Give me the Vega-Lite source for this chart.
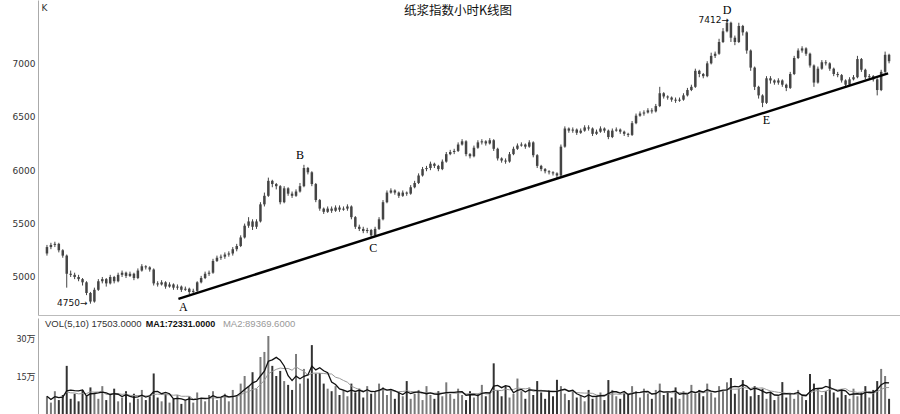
{
"$schema": "https://vega.github.io/schema/vega-lite/v6.json",
"padding": 0,
"background": "white",
"config": {"view": {"stroke": null}, "concat": {"spacing": 3}},
"datasets": {
"k": [
{"i":1,"o":5220,"h":5300,"l":5200,"c":5280,"v":70000},
{"i":2,"o":5280,"h":5320,"l":5260,"c":5300,"v":45000},
{"i":3,"o":5300,"h":5330,"l":5280,"c":5310,"v":90000},
{"i":4,"o":5310,"h":5320,"l":5230,"c":5250,"v":55000},
{"i":5,"o":5250,"h":5260,"l":5180,"c":5200,"v":75000},
{"i":6,"o":5200,"h":5210,"l":4900,"c":5030,"v":190000},
{"i":7,"o":5030,"h":5060,"l":5000,"c":5020,"v":60000},
{"i":8,"o":5020,"h":5040,"l":4980,"c":5000,"v":80000},
{"i":9,"o":5000,"h":5020,"l":4960,"c":4980,"v":50000},
{"i":10,"o":4980,"h":4990,"l":4920,"c":4950,"v":95000},
{"i":11,"o":4950,"h":4960,"l":4830,"c":4850,"v":70000},
{"i":12,"o":4850,"h":4860,"l":4750,"c":4770,"v":105000},
{"i":13,"o":4770,"h":4900,"l":4760,"c":4880,"v":85000},
{"i":14,"o":4880,"h":4980,"l":4870,"c":4960,"v":60000},
{"i":15,"o":4960,"h":5000,"l":4940,"c":4980,"v":110000},
{"i":16,"o":4980,"h":4990,"l":4910,"c":4940,"v":55000},
{"i":17,"o":4940,"h":5020,"l":4930,"c":5000,"v":75000},
{"i":18,"o":5000,"h":5010,"l":4940,"c":4960,"v":100000},
{"i":19,"o":4960,"h":5040,"l":4950,"c":5020,"v":50000},
{"i":20,"o":5020,"h":5060,"l":5000,"c":5040,"v":65000},
{"i":21,"o":5040,"h":5050,"l":4990,"c":5010,"v":90000},
{"i":22,"o":5010,"h":5050,"l":5000,"c":5030,"v":45000},
{"i":23,"o":5030,"h":5040,"l":4970,"c":4990,"v":80000},
{"i":24,"o":4990,"h":5080,"l":4980,"c":5060,"v":60000},
{"i":25,"o":5060,"h":5120,"l":5050,"c":5100,"v":95000},
{"i":26,"o":5100,"h":5110,"l":5070,"c":5090,"v":55000},
{"i":27,"o":5090,"h":5100,"l":5050,"c":5070,"v":70000},
{"i":28,"o":5070,"h":5080,"l":4920,"c":4940,"v":160000},
{"i":29,"o":4940,"h":4960,"l":4910,"c":4930,"v":65000},
{"i":30,"o":4930,"h":4970,"l":4920,"c":4950,"v":50000},
{"i":31,"o":4950,"h":4960,"l":4890,"c":4910,"v":80000},
{"i":32,"o":4910,"h":4950,"l":4900,"c":4930,"v":45000},
{"i":33,"o":4930,"h":4940,"l":4880,"c":4900,"v":60000},
{"i":34,"o":4900,"h":4930,"l":4880,"c":4910,"v":75000},
{"i":35,"o":4910,"h":4920,"l":4860,"c":4880,"v":40000},
{"i":36,"o":4880,"h":4910,"l":4870,"c":4890,"v":55000},
{"i":37,"o":4890,"h":4900,"l":4840,"c":4860,"v":70000},
{"i":38,"o":4860,"h":4890,"l":4850,"c":4870,"v":45000},
{"i":39,"o":4870,"h":4960,"l":4860,"c":4950,"v":85000},
{"i":40,"o":4950,"h":5010,"l":4940,"c":4990,"v":60000},
{"i":41,"o":4990,"h":5050,"l":4980,"c":5030,"v":50000},
{"i":42,"o":5030,"h":5060,"l":5010,"c":5040,"v":75000},
{"i":43,"o":5040,"h":5170,"l":5030,"c":5150,"v":90000},
{"i":44,"o":5150,"h":5200,"l":5140,"c":5180,"v":55000},
{"i":45,"o":5180,"h":5210,"l":5160,"c":5190,"v":65000},
{"i":46,"o":5190,"h":5230,"l":5170,"c":5210,"v":80000},
{"i":47,"o":5210,"h":5240,"l":5190,"c":5220,"v":50000},
{"i":48,"o":5220,"h":5280,"l":5200,"c":5260,"v":95000},
{"i":49,"o":5260,"h":5310,"l":5240,"c":5290,"v":70000},
{"i":50,"o":5290,"h":5390,"l":5280,"c":5370,"v":120000},
{"i":51,"o":5370,"h":5500,"l":5360,"c":5480,"v":150000},
{"i":52,"o":5480,"h":5560,"l":5460,"c":5520,"v":110000},
{"i":53,"o":5520,"h":5540,"l":5440,"c":5470,"v":165000},
{"i":54,"o":5470,"h":5540,"l":5450,"c":5520,"v":100000},
{"i":55,"o":5520,"h":5700,"l":5510,"c":5680,"v":225000},
{"i":56,"o":5680,"h":5790,"l":5660,"c":5760,"v":245000},
{"i":57,"o":5760,"h":5930,"l":5750,"c":5900,"v":308000},
{"i":58,"o":5900,"h":5910,"l":5840,"c":5870,"v":190000},
{"i":59,"o":5870,"h":5880,"l":5820,"c":5850,"v":150000},
{"i":60,"o":5850,"h":5860,"l":5680,"c":5700,"v":170000},
{"i":61,"o":5700,"h":5850,"l":5690,"c":5830,"v":130000},
{"i":62,"o":5830,"h":5840,"l":5760,"c":5780,"v":115000},
{"i":63,"o":5780,"h":5800,"l":5740,"c":5760,"v":95000},
{"i":64,"o":5760,"h":5820,"l":5750,"c":5800,"v":237000},
{"i":65,"o":5800,"h":5880,"l":5790,"c":5850,"v":120000},
{"i":66,"o":5850,"h":6050,"l":5840,"c":6020,"v":178000},
{"i":67,"o":6020,"h":6030,"l":5960,"c":5980,"v":140000},
{"i":68,"o":5980,"h":5990,"l":5850,"c":5870,"v":272000},
{"i":69,"o":5870,"h":5880,"l":5700,"c":5720,"v":160000},
{"i":70,"o":5720,"h":5730,"l":5620,"c":5640,"v":162000},
{"i":71,"o":5640,"h":5650,"l":5590,"c":5610,"v":120000},
{"i":72,"o":5610,"h":5660,"l":5600,"c":5640,"v":100000},
{"i":73,"o":5640,"h":5660,"l":5600,"c":5620,"v":90000},
{"i":74,"o":5620,"h":5670,"l":5610,"c":5650,"v":110000},
{"i":75,"o":5650,"h":5670,"l":5610,"c":5630,"v":75000},
{"i":76,"o":5630,"h":5660,"l":5620,"c":5640,"v":95000},
{"i":77,"o":5640,"h":5680,"l":5620,"c":5660,"v":70000},
{"i":78,"o":5660,"h":5670,"l":5540,"c":5560,"v":120000},
{"i":79,"o":5560,"h":5570,"l":5450,"c":5470,"v":85000},
{"i":80,"o":5470,"h":5490,"l":5430,"c":5450,"v":100000},
{"i":81,"o":5450,"h":5470,"l":5410,"c":5430,"v":65000},
{"i":82,"o":5430,"h":5460,"l":5410,"c":5440,"v":110000},
{"i":83,"o":5440,"h":5450,"l":5370,"c":5390,"v":80000},
{"i":84,"o":5390,"h":5470,"l":5380,"c":5450,"v":90000},
{"i":85,"o":5450,"h":5560,"l":5440,"c":5540,"v":120000},
{"i":86,"o":5540,"h":5720,"l":5530,"c":5700,"v":105000},
{"i":87,"o":5700,"h":5810,"l":5690,"c":5790,"v":75000},
{"i":88,"o":5790,"h":5830,"l":5780,"c":5810,"v":95000},
{"i":89,"o":5810,"h":5820,"l":5770,"c":5790,"v":60000},
{"i":90,"o":5790,"h":5800,"l":5740,"c":5760,"v":85000},
{"i":91,"o":5760,"h":5810,"l":5750,"c":5790,"v":70000},
{"i":92,"o":5790,"h":5800,"l":5760,"c":5780,"v":130000},
{"i":93,"o":5780,"h":5860,"l":5770,"c":5840,"v":60000},
{"i":94,"o":5840,"h":5900,"l":5830,"c":5880,"v":80000},
{"i":95,"o":5880,"h":5970,"l":5870,"c":5950,"v":95000},
{"i":96,"o":5950,"h":6030,"l":5940,"c":6010,"v":55000},
{"i":97,"o":6010,"h":6040,"l":5990,"c":6020,"v":110000},
{"i":98,"o":6020,"h":6080,"l":6000,"c":6060,"v":75000},
{"i":99,"o":6060,"h":6070,"l":6020,"c":6040,"v":60000},
{"i":100,"o":6040,"h":6050,"l":5990,"c":6010,"v":90000},
{"i":101,"o":6010,"h":6100,"l":6000,"c":6080,"v":70000},
{"i":102,"o":6080,"h":6170,"l":6070,"c":6150,"v":125000},
{"i":103,"o":6150,"h":6190,"l":6140,"c":6170,"v":80000},
{"i":104,"o":6170,"h":6200,"l":6150,"c":6180,"v":60000},
{"i":105,"o":6180,"h":6260,"l":6170,"c":6240,"v":100000},
{"i":106,"o":6240,"h":6290,"l":6230,"c":6270,"v":75000},
{"i":107,"o":6270,"h":6280,"l":6130,"c":6150,"v":55000},
{"i":108,"o":6150,"h":6160,"l":6110,"c":6130,"v":90000},
{"i":109,"o":6130,"h":6230,"l":6120,"c":6210,"v":65000},
{"i":110,"o":6210,"h":6280,"l":6200,"c":6260,"v":80000},
{"i":111,"o":6260,"h":6290,"l":6240,"c":6270,"v":115000},
{"i":112,"o":6270,"h":6280,"l":6230,"c":6250,"v":70000},
{"i":113,"o":6250,"h":6300,"l":6240,"c":6280,"v":85000},
{"i":114,"o":6280,"h":6290,"l":6180,"c":6200,"v":200000},
{"i":115,"o":6200,"h":6210,"l":6090,"c":6110,"v":95000},
{"i":116,"o":6110,"h":6120,"l":6070,"c":6090,"v":70000},
{"i":117,"o":6090,"h":6110,"l":6060,"c":6080,"v":110000},
{"i":118,"o":6080,"h":6170,"l":6070,"c":6150,"v":65000},
{"i":119,"o":6150,"h":6220,"l":6140,"c":6200,"v":80000},
{"i":120,"o":6200,"h":6250,"l":6190,"c":6230,"v":140000},
{"i":121,"o":6230,"h":6260,"l":6220,"c":6240,"v":90000},
{"i":122,"o":6240,"h":6250,"l":6200,"c":6220,"v":60000},
{"i":123,"o":6220,"h":6280,"l":6210,"c":6260,"v":105000},
{"i":124,"o":6260,"h":6270,"l":6120,"c":6140,"v":75000},
{"i":125,"o":6140,"h":6150,"l":6020,"c":6040,"v":130000},
{"i":126,"o":6040,"h":6050,"l":5990,"c":6010,"v":85000},
{"i":127,"o":6010,"h":6020,"l":5970,"c":5990,"v":60000},
{"i":128,"o":5990,"h":6000,"l":5960,"c":5980,"v":95000},
{"i":129,"o":5980,"h":5990,"l":5950,"c":5970,"v":70000},
{"i":130,"o":5970,"h":5980,"l":5920,"c":5950,"v":135000},
{"i":131,"o":5950,"h":6240,"l":5940,"c":6220,"v":110000},
{"i":132,"o":6220,"h":6410,"l":6210,"c":6390,"v":80000},
{"i":133,"o":6390,"h":6400,"l":6350,"c":6370,"v":55000},
{"i":134,"o":6370,"h":6400,"l":6350,"c":6380,"v":90000},
{"i":135,"o":6380,"h":6390,"l":6330,"c":6350,"v":65000},
{"i":136,"o":6350,"h":6390,"l":6340,"c":6370,"v":75000},
{"i":137,"o":6370,"h":6420,"l":6360,"c":6400,"v":50000},
{"i":138,"o":6400,"h":6420,"l":6370,"c":6390,"v":95000},
{"i":139,"o":6390,"h":6400,"l":6320,"c":6340,"v":60000},
{"i":140,"o":6340,"h":6380,"l":6330,"c":6360,"v":70000},
{"i":141,"o":6360,"h":6410,"l":6350,"c":6390,"v":85000},
{"i":142,"o":6390,"h":6400,"l":6350,"c":6370,"v":55000},
{"i":143,"o":6370,"h":6380,"l":6290,"c":6310,"v":134000},
{"i":144,"o":6310,"h":6390,"l":6300,"c":6370,"v":95000},
{"i":145,"o":6370,"h":6400,"l":6360,"c":6380,"v":70000},
{"i":146,"o":6380,"h":6390,"l":6340,"c":6360,"v":60000},
{"i":147,"o":6360,"h":6370,"l":6320,"c":6340,"v":85000},
{"i":148,"o":6340,"h":6350,"l":6310,"c":6330,"v":75000},
{"i":149,"o":6330,"h":6460,"l":6320,"c":6440,"v":110000},
{"i":150,"o":6440,"h":6530,"l":6430,"c":6510,"v":90000},
{"i":151,"o":6510,"h":6550,"l":6500,"c":6530,"v":65000},
{"i":152,"o":6530,"h":6560,"l":6510,"c":6540,"v":100000},
{"i":153,"o":6540,"h":6580,"l":6530,"c":6560,"v":80000},
{"i":154,"o":6560,"h":6580,"l":6530,"c":6550,"v":60000},
{"i":155,"o":6550,"h":6620,"l":6540,"c":6600,"v":95000},
{"i":156,"o":6600,"h":6780,"l":6590,"c":6720,"v":120000},
{"i":157,"o":6720,"h":6730,"l":6670,"c":6690,"v":75000},
{"i":158,"o":6690,"h":6700,"l":6660,"c":6680,"v":85000},
{"i":159,"o":6680,"h":6690,"l":6640,"c":6660,"v":65000},
{"i":160,"o":6660,"h":6680,"l":6630,"c":6650,"v":105000},
{"i":161,"o":6650,"h":6680,"l":6640,"c":6660,"v":60000},
{"i":162,"o":6660,"h":6720,"l":6650,"c":6700,"v":90000},
{"i":163,"o":6700,"h":6770,"l":6690,"c":6750,"v":75000},
{"i":164,"o":6750,"h":6800,"l":6740,"c":6780,"v":115000},
{"i":165,"o":6780,"h":6950,"l":6770,"c":6930,"v":80000},
{"i":166,"o":6930,"h":6940,"l":6870,"c":6900,"v":95000},
{"i":167,"o":6900,"h":6910,"l":6860,"c":6880,"v":70000},
{"i":168,"o":6880,"h":7020,"l":6870,"c":7000,"v":120000},
{"i":169,"o":7000,"h":7100,"l":6990,"c":7070,"v":85000},
{"i":170,"o":7070,"h":7110,"l":7050,"c":7090,"v":65000},
{"i":171,"o":7090,"h":7230,"l":7080,"c":7200,"v":110000},
{"i":172,"o":7200,"h":7330,"l":7190,"c":7300,"v":90000},
{"i":173,"o":7300,"h":7412,"l":7290,"c":7380,"v":125000},
{"i":174,"o":7380,"h":7390,"l":7200,"c":7240,"v":142000},
{"i":175,"o":7240,"h":7260,"l":7170,"c":7200,"v":80000},
{"i":176,"o":7200,"h":7380,"l":7190,"c":7350,"v":100000},
{"i":177,"o":7350,"h":7360,"l":7260,"c":7290,"v":134000},
{"i":178,"o":7290,"h":7300,"l":7090,"c":7120,"v":95000},
{"i":179,"o":7120,"h":7130,"l":6930,"c":6960,"v":70000},
{"i":180,"o":6960,"h":6970,"l":6750,"c":6780,"v":110000},
{"i":181,"o":6780,"h":6790,"l":6670,"c":6700,"v":75000},
{"i":182,"o":6700,"h":6710,"l":6590,"c":6630,"v":100000},
{"i":183,"o":6630,"h":6880,"l":6620,"c":6860,"v":60000},
{"i":184,"o":6860,"h":6880,"l":6810,"c":6840,"v":85000},
{"i":185,"o":6840,"h":6850,"l":6800,"c":6820,"v":55000},
{"i":186,"o":6820,"h":6860,"l":6800,"c":6840,"v":70000},
{"i":187,"o":6840,"h":6850,"l":6780,"c":6800,"v":126000},
{"i":188,"o":6800,"h":6810,"l":6740,"c":6770,"v":65000},
{"i":189,"o":6770,"h":6920,"l":6760,"c":6900,"v":80000},
{"i":190,"o":6900,"h":7070,"l":6890,"c":7050,"v":60000},
{"i":191,"o":7050,"h":7140,"l":7040,"c":7120,"v":95000},
{"i":192,"o":7120,"h":7160,"l":7100,"c":7140,"v":70000},
{"i":193,"o":7140,"h":7150,"l":7070,"c":7090,"v":55000},
{"i":194,"o":7090,"h":7100,"l":6960,"c":6980,"v":158000},
{"i":195,"o":6980,"h":6990,"l":6780,"c":6820,"v":120000},
{"i":196,"o":6820,"h":6970,"l":6810,"c":6950,"v":100000},
{"i":197,"o":6950,"h":7030,"l":6940,"c":7010,"v":75000},
{"i":198,"o":7010,"h":7030,"l":6980,"c":7000,"v":90000},
{"i":199,"o":7000,"h":7010,"l":6930,"c":6950,"v":138000},
{"i":200,"o":6950,"h":6960,"l":6880,"c":6900,"v":85000},
{"i":201,"o":6900,"h":6920,"l":6870,"c":6890,"v":65000},
{"i":202,"o":6890,"h":6900,"l":6820,"c":6840,"v":95000},
{"i":203,"o":6840,"h":6850,"l":6780,"c":6800,"v":75000},
{"i":204,"o":6800,"h":6870,"l":6790,"c":6850,"v":60000},
{"i":205,"o":6850,"h":6890,"l":6840,"c":6870,"v":100000},
{"i":206,"o":6870,"h":7070,"l":6860,"c":7040,"v":70000},
{"i":207,"o":7040,"h":7050,"l":6920,"c":6940,"v":85000},
{"i":208,"o":6940,"h":6950,"l":6850,"c":6870,"v":110000},
{"i":209,"o":6870,"h":6900,"l":6850,"c":6880,"v":65000},
{"i":210,"o":6880,"h":6890,"l":6830,"c":6850,"v":95000},
{"i":211,"o":6850,"h":6860,"l":6700,"c":6750,"v":130000},
{"i":212,"o":6750,"h":6940,"l":6740,"c":6920,"v":178000},
{"i":213,"o":6920,"h":7110,"l":6910,"c":7080,"v":150000},
{"i":214,"o":7080,"h":7090,"l":7000,"c":7020,"v":60000}
],
"trend": [{"i1":34.25,"p1":4795,"i2":213.75,"p2":6906}],
"lab": [
{"i":35.5,"p":4715,"t":"A"},
{"i":65,"p":6139,"t":"B"},
{"i":83.5,"p":5268,"t":"C"},
{"i":173,"p":7500,"t":"D"},
{"i":183,"p":6466,"t":"E"}
],
"ext": [
{"i":173.5,"p":7405,"t":"7412→"},
{"i":11.25,"p":4753,"t":"4750→"}
]
},
"vconcat": [
{
"width": 862,
"height": 315,
"title": {"text": "纸浆指数小时K线图", "font": "Noto Sans CJK SC", "fontSize": 12.5, "fontWeight": "normal", "color": "#111", "anchor": "middle", "frame": "group", "offset": -17, "dx": -11},
"layer": [
{"data": {"name": "k"}, "mark": {"type": "rule", "color": "#444", "strokeWidth": 1},
 "encoding": {
  "x": {"field": "i", "type": "quantitative", "scale": {"domain": [0, 215.5], "nice": false, "zero": false},
        "axis": {"orient": "bottom", "labels": false, "ticks": false, "grid": false, "title": null, "domainColor": "#bbb", "minExtent": 0, "maxExtent": 0}},
  "y": {"field": "l", "type": "quantitative", "scale": {"domain": [4644, 7593], "nice": false, "zero": false},
        "axis": {"values": [5000, 5500, 6000, 6500, 7000], "format": "d", "ticks": false, "grid": false, "domainColor": "#aaa", "labelColor": "#333", "labelFont": "DejaVu Sans", "labelFontSize": 9, "labelPadding": 3, "title": "K", "titleAngle": 0, "titleX": 3, "titleY": 3, "titleAlign": "left", "titleBaseline": "top", "titleFont": "DejaVu Sans", "titleFontSize": 9, "titleFontWeight": "normal", "titleColor": "#333", "minExtent": 38, "maxExtent": 38}},
  "y2": {"field": "h"}
 }},
{"data": {"name": "k"}, "mark": {"type": "bar", "width": 2.5, "color": "#444"},
 "encoding": {"x": {"field": "i", "type": "quantitative"}, "y": {"field": "o", "type": "quantitative"}, "y2": {"field": "c"}}},
{"data": {"name": "trend"}, "mark": {"type": "rule", "color": "#000", "strokeWidth": 2.5},
 "encoding": {"x": {"field": "i1", "type": "quantitative"}, "y": {"field": "p1", "type": "quantitative"}, "x2": {"field": "i2"}, "y2": {"field": "p2"}}},
{"data": {"name": "lab"}, "mark": {"type": "text", "font": "Liberation Serif", "fontSize": 12, "color": "#000", "baseline": "middle", "align": "center"},
 "encoding": {"x": {"field": "i", "type": "quantitative"}, "y": {"field": "p", "type": "quantitative"}, "text": {"field": "t"}}},
{"data": {"name": "ext"}, "mark": {"type": "text", "font": "DejaVu Sans", "fontSize": 9, "color": "#111", "baseline": "middle", "align": "right"},
 "encoding": {"x": {"field": "i", "type": "quantitative"}, "y": {"field": "p", "type": "quantitative"}, "text": {"field": "t"}}}
]
},
{
"width": 862,
"height": 96,
"layer": [
{"data": {"name": "k"}, "mark": {"type": "bar", "width": 2},
 "encoding": {
  "x": {"field": "i", "type": "quantitative", "scale": {"domain": [0, 215.5], "nice": false, "zero": false}, "axis": null},
  "y": {"field": "v", "type": "quantitative", "scale": {"domain": [0, 379000], "nice": false},
        "axis": {"values": [150000, 300000], "labelExpr": "(datum.value/10000) + '万'", "ticks": false, "grid": false, "domainColor": "#aaa", "labelColor": "#333", "labelFont": "Noto Sans CJK SC", "labelFontSize": 9, "labelPadding": 3, "title": null, "minExtent": 38, "maxExtent": 38}},
  "color": {"condition": {"test": "datum.c >= datum.o", "value": "#7a7a7a"}, "value": "#333"}
 }},
{"data": {"name": "k"},
 "transform": [{"window": [{"op": "mean", "field": "v", "as": "ma2"}], "frame": [-9, 0], "sort": [{"field": "i"}]}],
 "mark": {"type": "line", "color": "#999", "strokeWidth": 1},
 "encoding": {"x": {"field": "i", "type": "quantitative"}, "y": {"field": "ma2", "type": "quantitative"}}},
{"data": {"name": "k"},
 "transform": [{"window": [{"op": "mean", "field": "v", "as": "ma1"}], "frame": [-4, 0], "sort": [{"field": "i"}]}],
 "mark": {"type": "line", "color": "#111", "strokeWidth": 1.3},
 "encoding": {"x": {"field": "i", "type": "quantitative"}, "y": {"field": "ma1", "type": "quantitative"}}},
{"data": {"values": [{"t": "VOL(5,10) 17503.0000"}]},
 "mark": {"type": "text", "align": "left", "baseline": "middle", "font": "Liberation Sans", "fontSize": 9.5, "color": "#333"},
 "encoding": {"x": {"datum": 0.5, "type": "quantitative"}, "y": {"datum": 357000, "type": "quantitative"}, "text": {"field": "t"}}},
{"data": {"values": [{"t": "MA1:72331.0000"}]},
 "mark": {"type": "text", "align": "left", "baseline": "middle", "font": "Liberation Sans", "fontSize": 9, "fontWeight": "bold", "color": "#111"},
 "encoding": {"x": {"datum": 26, "type": "quantitative"}, "y": {"datum": 357000, "type": "quantitative"}, "text": {"field": "t"}}},
{"data": {"values": [{"t": "MA2:89369.6000"}]},
 "mark": {"type": "text", "align": "left", "baseline": "middle", "font": "Liberation Sans", "fontSize": 9.5, "color": "#999"},
 "encoding": {"x": {"datum": 45.5, "type": "quantitative"}, "y": {"datum": 357000, "type": "quantitative"}, "text": {"field": "t"}}}
]
}
]
}
